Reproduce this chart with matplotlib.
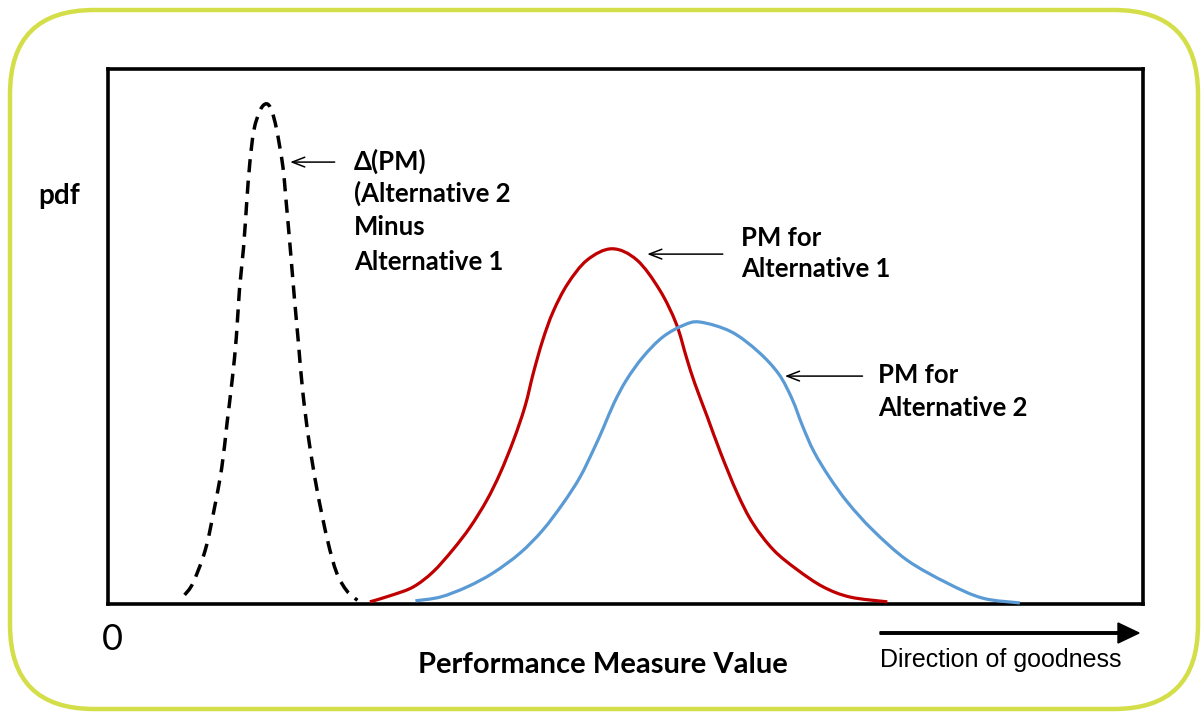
import matplotlib
matplotlib.use("Agg")
import matplotlib.pyplot as plt
from matplotlib.patches import FancyBboxPatch, FancyArrow, PathPatch
from matplotlib.path import Path

# pdf curves, x = performance measure (0-100 across the axis), y = density (0-100)
delta_x = [7.4, 8.2, 9.4, 10.3, 11.0, 11.5, 12.0, 12.4, 12.7, 13.1, 13.4, 13.7, 14.1,
           14.7, 15.3, 15.8, 16.3, 16.9, 17.2, 17.6, 18.0, 18.4, 18.8, 19.4, 20.2,
           21.2, 22.1, 23.1, 24.1]
delta_y = [1.7, 3.9, 10.1, 18.1, 25.6, 33.8, 41.9, 49.9, 58.7, 66.7, 75.0, 82.4, 88.6,
           92.3, 93.5, 92.3, 88.6, 81.7, 75.5, 66.7, 57.4, 48.8, 40.0, 30.7, 21.3,
           12.0, 5.8, 2.4, 0.7]

alt1_x = [25.3, 27.5, 29.5, 31.4, 33.3, 35.0, 36.6, 37.9, 39.2, 40.3, 41.1, 42.0, 43.0,
          44.4, 46.3, 48.7, 51.1, 53.3, 54.9, 55.9, 56.7, 57.9, 59.2, 60.8, 62.3,
          64.3, 66.6, 69.1, 71.7, 75.3]
alt1_y = [0.4, 1.7, 3.2, 6.0, 10.1, 14.4, 19.4, 24.5, 30.7, 37.0, 43.2, 49.3, 54.6,
          59.8, 64.3, 66.4, 64.3, 58.7, 52.4, 46.0, 41.2, 35.0, 28.2, 20.7, 15.1,
          10.1, 6.4, 3.2, 1.3, 0.4]

alt2_x = [29.7, 32.1, 34.7, 37.2, 39.8, 42.0, 44.0, 45.6, 46.9, 47.9, 48.9, 50.1, 51.7,
          53.6, 55.6, 57.2, 60.2, 62.8, 64.8, 66.1, 67.1, 68.2, 69.7, 71.5, 73.9,
          77.2, 81.1, 84.5, 88.1]
alt2_y = [0.6, 1.3, 3.2, 5.8, 9.5, 13.8, 18.9, 23.7, 28.8, 33.1, 37.6, 41.9, 46.2,
          49.9, 52.1, 52.7, 50.9, 47.2, 43.0, 38.3, 33.3, 28.5, 23.7, 18.9, 13.8,
          8.2, 3.9, 1.1, 0.2]

W, H = 1201, 713
LATO = ["Lato", "DejaVu Sans"]
BOLD = dict(family=LATO, weight="bold", color="black")


def fx(px):
    return px / W


def fy(py):
    return 1 - py / H


def smooth_path(xs, ys):
    """Catmull-Rom through the points, written out as cubic Bezier segments."""
    pts = list(zip(xs, ys))
    verts = [pts[0]]
    codes = [Path.MOVETO]
    for i in range(len(pts) - 1):
        p0 = pts[max(i - 1, 0)]
        p1 = pts[i]
        p2 = pts[i + 1]
        p3 = pts[min(i + 2, len(pts) - 1)]
        c1 = (p1[0] + (p2[0] - p0[0]) / 6, p1[1] + (p2[1] - p0[1]) / 6)
        c2 = (p2[0] - (p3[0] - p1[0]) / 6, p2[1] - (p3[1] - p1[1]) / 6)
        verts += [c1, c2, p2]
        codes += [Path.CURVE4] * 3
    return Path(verts, codes)


def draw_curve(ax, xs, ys, **kw):
    patch = PathPatch(smooth_path(xs, ys), fill=False, zorder=3, clip_on=False,
                      capstyle="butt", **kw)
    ax.add_patch(patch)


fig = plt.figure(figsize=(W / 100, H / 100), dpi=100)

# rounded frame around the whole slide
frame = FancyBboxPatch((fx(10), fy(709)), fx(1188), 699 / H,
                       boxstyle="round,pad=0,rounding_size=0.07",
                       transform=fig.transFigure, fill=False,
                       edgecolor="#d4de48", linewidth=3.2, mutation_aspect=W / H)
fig.patches.append(frame)

ax = fig.add_axes([fx(108), fy(604), fx(1143 - 108), (604 - 69) / H])
ax.set_xlim(0, 100)
ax.set_ylim(0, 100)
ax.set_xticks([])
ax.set_yticks([])
for s in ax.spines.values():
    s.set_linewidth(2.6)
    s.set_color("black")

draw_curve(ax, delta_x, delta_y, edgecolor="black", linewidth=2.5,
           linestyle=(0, (3.8, 2.4)))
draw_curve(ax, alt1_x, alt1_y, edgecolor="#c00000", linewidth=2.3)
draw_curve(ax, alt2_x, alt2_y, edgecolor="#5b9bd5", linewidth=2.3)

# pointer arrows from the labels to the curves
arrow = dict(arrowstyle="->,head_length=0.9,head_width=0.35", lw=1.1, color="black",
             shrinkA=0, shrinkB=0)
ax.annotate("", xy=(17.6, 82.6), xytext=(21.9, 82.6), arrowprops=arrow)
ax.annotate("", xy=(52.1, 65.4), xytext=(59.4, 65.4), arrowprops=arrow)
ax.annotate("", xy=(65.4, 42.6), xytext=(72.9, 42.6), arrowprops=arrow)

LABEL = 18.5
fig.text(fx(354), fy(161), "\u0394(PM)", fontsize=LABEL, va="center", **BOLD)
fig.text(fx(354), fy(193), "(Alternative 2", fontsize=LABEL, va="center", **BOLD)
fig.text(fx(354), fy(227), "Minus", fontsize=LABEL, va="center", **BOLD)
fig.text(fx(354), fy(262), "Alternative 1", fontsize=LABEL, va="center", **BOLD)

fig.text(fx(741), fy(238), "PM for", fontsize=LABEL, va="center", **BOLD)
fig.text(fx(741), fy(269), "Alternative 1", fontsize=LABEL, va="center", **BOLD)
fig.text(fx(878), fy(375), "PM for", fontsize=LABEL, va="center", **BOLD)
fig.text(fx(878), fy(408), "Alternative 2", fontsize=LABEL, va="center", **BOLD)

fig.text(fx(38), fy(196), "pdf", fontsize=20, va="center", **BOLD)
fig.text(fx(603), fy(665), "Performance Measure Value", fontsize=21,
         ha="center", va="center", **BOLD)
fig.text(fx(112), fy(639), "0", fontsize=26, ha="center", va="center",
         family=LATO, color="black")

# direction of goodness arrow under the axis
fig.patches.append(FancyArrow(
    fx(880), fy(633), fx(1139 - 880), 0, width=2.5 / H, head_width=20 / H,
    head_length=fx(21), length_includes_head=True, color="black",
    transform=fig.transFigure))
fig.text(fx(880), fy(660), "Direction of goodness", fontsize=18, va="center",
         family=["Liberation Sans", "DejaVu Sans"], color="black")

fig.savefig("out.png", dpi=100)
